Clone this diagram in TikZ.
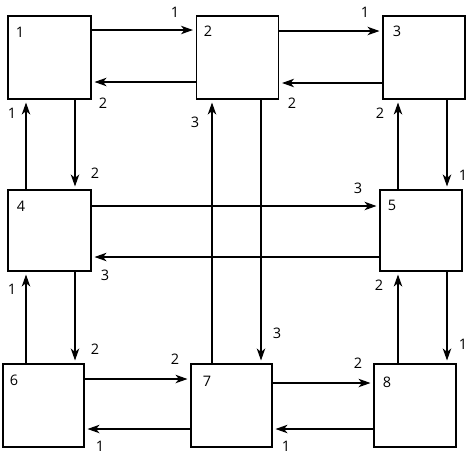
\documentclass[tikz,border=0pt]{standalone}
\usepackage{fontspec}
\setmainfont{Open Sans}
\usetikzlibrary{arrows.meta}
\tikzset{
  box/.style={draw, line width=1.1pt, minimum width=#1, minimum height=83pt, inner sep=0pt},
  box/.default=83pt,
  num/.style={font=\fontsize{14.5}{15}\selectfont, inner sep=0pt},
  arr/.style={line width=1.1pt, -{Stealth[length=12pt,width=8.5pt,inset=3.5pt]}, shorten >=3pt},
}
\begin{document}
\begin{tikzpicture}[x=1pt,y=-1pt]
\useasboundingbox (0,0) rectangle (468,456);
% boxes
\node[box] (n1) at (49.5,57.5) {};
\node[box=82pt] (n2) at (237.5,57.5) {};
\node[box=82pt] (n3) at (424,57.5) {};
\node[box,minimum height=81pt] (n4) at (49.5,230.5) {};
\node[box=82pt,minimum height=81pt] (n5) at (421,230.5) {};
\node[box=81pt] (n6) at (43.5,405.5) {};
\node[box=81pt] (n7) at (231.5,405.5) {};
\node[box=82pt] (n8) at (415,405.5) {};
% box numbers
\node[num] (t1) at (20,32) {1};
\node[num] (t2) at (208,31) {2};
\node[num] (t3) at (397,31) {3};
\node[num] (t4) at (21,206) {4};
\node[num] (t5) at (392,205) {5};
\node[num] (t6) at (14,380) {6};
\node[num] (t7) at (207,381) {7};
\node[num] (t8) at (387,382) {8};
% horizontal arrows
\draw[arr] (n1.east |- 0,30) -- (n2.west |- 0,30);
\draw[arr] (n2.west |- 0,82) -- (n1.east |- 0,82);
\draw[arr] (n2.east |- 0,31) -- (n3.west |- 0,31);
\draw[arr] (n3.west |- 0,83) -- (n2.east |- 0,83);
\draw[arr] (n4.east |- 0,206) -- (n5.west |- 0,206);
\draw[arr] (n5.west |- 0,257) -- (n4.east |- 0,257);
\draw[arr] (n6.east |- 0,379) -- (n7.west |- 0,379);
\draw[arr] (n7.west |- 0,429) -- (n6.east |- 0,429);
\draw[arr] (n7.east |- 0,383) -- (n8.west |- 0,383);
\draw[arr] (n8.west |- 0,429) -- (n7.east |- 0,429);
% vertical arrows
\draw[arr] (n4.north -| 26,0) -- (n1.south -| 26,0);
\draw[arr] (n1.south -| 75,0) -- (n4.north -| 75,0);
\draw[arr] (n6.north -| 26,0) -- (n4.south -| 26,0);
\draw[arr] (n4.south -| 75,0) -- (n6.north -| 75,0);
\draw[arr] (n7.north -| 212,0) -- (n2.south -| 212,0);
\draw[arr] (n2.south -| 261,0) -- (n7.north -| 261,0);
\draw[arr] (n5.north -| 398,0) -- (n3.south -| 398,0);
\draw[arr] (n3.south -| 447,0) -- (n5.north -| 447,0);
\draw[arr] (n8.north -| 398,0) -- (n5.south -| 398,0);
\draw[arr] (n5.south -| 447,0) -- (n8.north -| 447,0);
% arrow labels
\node[num] (a1) at (175,12) {1};
\node[num] (a2) at (103,103) {2};
\node[num] (a3) at (365,12) {1};
\node[num] (a4) at (292,103) {2};
\node[num] (a5) at (12,113) {1};
\node[num] (a6) at (95,173) {2};
\node[num] (a7) at (195,122) {3};
\node[num] (a8) at (277,333) {3};
\node[num] (a9) at (380,113) {2};
\node[num] (a10) at (463,175) {1};
\node[num] (a11) at (358,188) {3};
\node[num] (a12) at (105,275) {3};
\node[num] (a13) at (12,289) {1};
\node[num] (a14) at (95,349) {2};
\node[num] (a15) at (379,285) {2};
\node[num] (a16) at (463,344) {1};
\node[num] (a17) at (175,359) {2};
\node[num] (a18) at (100,446) {1};
\node[num] (a19) at (358,363) {2};
\node[num] (a20) at (286,446) {1};
\end{tikzpicture}
\end{document}
